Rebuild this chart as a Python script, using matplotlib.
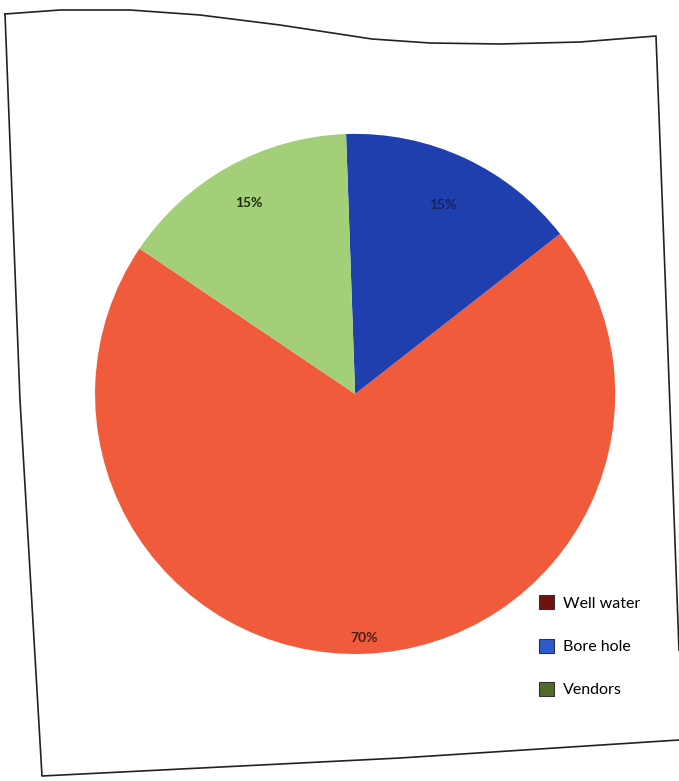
import matplotlib.pyplot as plt
from matplotlib.patches import Patch
from matplotlib.lines import Line2D
import numpy as np

labels = ['Well water', 'Bore hole', 'Vendors']
shares = [70, 15, 15]
pct_text = ['70%', '15%', '15%']
pie_colors = ['#ef5b3b', '#1f3fae', '#a2cf78']
legend_colors = ['#6e1212', '#2b5ccc', '#4f6d28']
label_dist = [0.94, 0.80, 0.84]
label_colors = ['#4a1f1a', '#1a2060', '#1f2a10']

fig = plt.figure(figsize=(6.79, 7.81), dpi=100)
ax = fig.add_axes([0.140, 0.1626, 0.766, 0.666])

wedges, _ = ax.pie(shares, colors=pie_colors, startangle=146,
                   counterclock=True, radius=1.0)
ax.set_xlim(-1, 1)
ax.set_ylim(-1, 1)
ax.set_aspect('equal')
ax.axis('off')

for w, t, d, c in zip(wedges, pct_text, label_dist, label_colors):
    mid = np.deg2rad((w.theta1 + w.theta2) / 2)
    ax.text(d * np.cos(mid), d * np.sin(mid), t, ha='center', va='center',
            fontsize=10, fontweight='bold', color=c, family=['Lato', 'DejaVu Sans'])

handles = [Patch(facecolor=c, edgecolor='#333333', linewidth=0.8) for c in legend_colors]
fig.legend(handles, labels, loc='upper left', bbox_to_anchor=(0.772, 0.256),
           frameon=False, labelspacing=1.75, handlelength=0.95,
           handleheight=0.95, handletextpad=0.6,
           prop={'family': ['Lato', 'DejaVu Sans'], 'size': 11.5})

# scanned page frame
H = 781
fx = [5, 60, 130, 200, 280, 372, 430, 500, 580, 656, 666, 679]
fy = [14, 10, 10, 15, 25, 39, 43, 44, 42, 36, 300, 650]
bx = [5, 20, 42, 400, 679]
by = [14, 400, 776, 758, 740]
for xs, ys in [(fx, fy), (bx, by)]:
    fig.add_artist(Line2D(np.array(xs) / 679, 1 - np.array(ys) / H,
                          color='#222222', linewidth=1.2, transform=fig.transFigure))

fig.savefig('out.png', dpi=100, facecolor='white')
